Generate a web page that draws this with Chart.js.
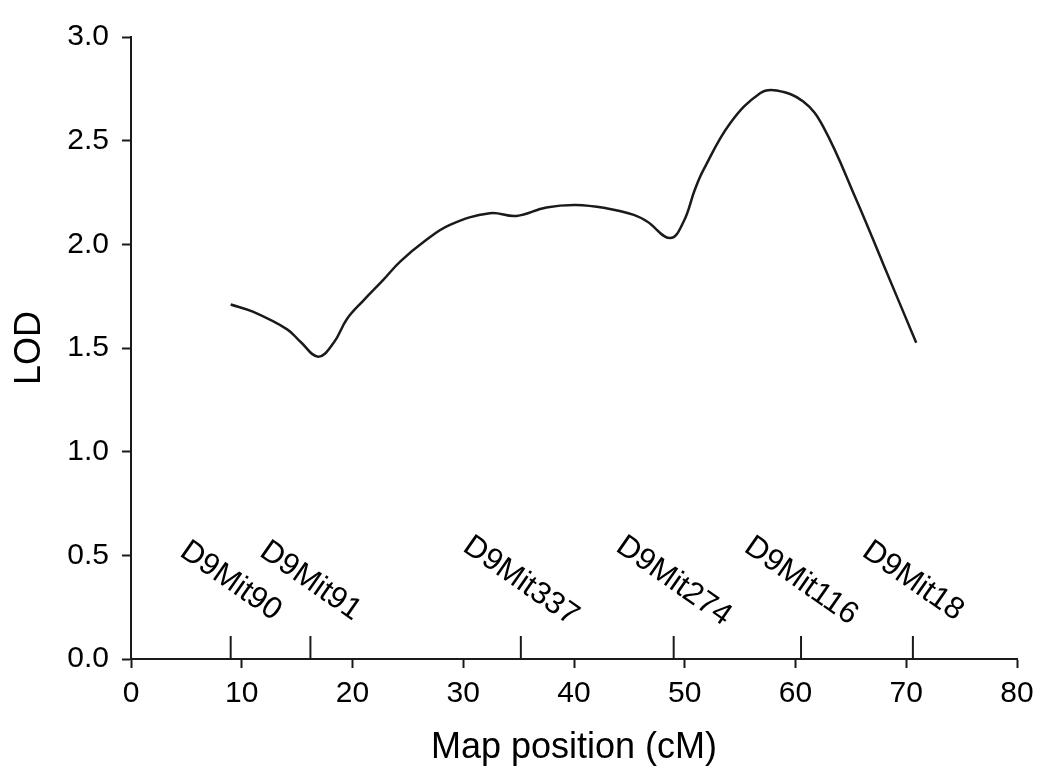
<!DOCTYPE html>
<html>
<head>
<meta charset="utf-8">
<script src="https://cdn.jsdelivr.net/npm/chart.js@4.4.1/dist/chart.umd.min.js"></script>
<style>
  body { margin: 0; background: #fff; }
  #wrap { width: 1050px; height: 780px; }
</style>
</head>
<body>
<div id="wrap"><canvas id="myChart" width="1050" height="780"></canvas></div>
<script>
// LOD curve
const positions = [9.0, 11.0, 14.1, 15.3, 16.9, 18.3, 19.5, 21.0, 22.8, 24.3, 26.5, 28.8, 32.4, 34.8, 37.5, 40.2, 42.9, 45.4, 46.6, 48.7, 49.9, 50.9, 51.7, 54.1, 56.8, 58.3, 60.7, 62.5, 65.5, 67.9, 70.9];
const lodValues = [1.71, 1.675, 1.59, 1.53, 1.458, 1.525, 1.64, 1.73, 1.83, 1.917, 2.015, 2.094, 2.15, 2.137, 2.178, 2.19, 2.174, 2.142, 2.11, 2.03, 2.11, 2.262, 2.36, 2.584, 2.729, 2.742, 2.689, 2.568, 2.214, 1.908, 1.525];

// markers along the map
const markerNames = ["D9Mit90", "D9Mit91", "D9Mit337", "D9Mit274", "D9Mit116", "D9Mit18"];
const markerPositions = [9.0, 16.2, 35.2, 49.0, 60.5, 70.6];

const xTicks = [0, 10, 20, 30, 40, 50, 60, 70, 80];
const yTicks = [0, 0.5, 1.0, 1.5, 2.0, 2.5, 3.0];

const FONT = "'Liberation Sans', Arial, Helvetica, sans-serif";

const markerPlugin = {
  id: "markers",
  afterDatasetsDraw(chart) {
    const ctx = chart.ctx;
    const x = chart.scales.x;
    const y = chart.scales.y;
    const base = y.getPixelForValue(0);
    ctx.save();
    ctx.strokeStyle = "#1a1a1a";
    ctx.lineWidth = 2;
    ctx.fillStyle = "#000";
    ctx.font = "31px " + FONT;
    ctx.textAlign = "center";
    ctx.textBaseline = "middle";
    markerNames.forEach((name, i) => {
      const px = x.getPixelForValue(markerPositions[i]);
      ctx.beginPath();
      ctx.moveTo(px, base);
      ctx.lineTo(px, base - 23);
      ctx.stroke();
      ctx.save();
      ctx.translate(px, base - 78);
      ctx.rotate(35 * Math.PI / 180);
      ctx.fillText(name, 0, 0);
      ctx.restore();
    });
    ctx.restore();
  }
};

new Chart(document.getElementById("myChart"), {
  type: "line",
  data: {
    datasets: [{
      label: "LOD",
      data: positions.map((p, i) => ({ x: p, y: lodValues[i] })),
      borderColor: "#1a1a1a",
      borderWidth: 2.5,
      pointRadius: 0,
      fill: false,
      tension: 0.4
    }]
  },
  options: {
    responsive: false,
    animation: false,
    layout: { padding: { left: 0, right: 33, top: 37, bottom: 0 } },
    plugins: { legend: { display: false }, tooltip: { enabled: false } },
    scales: {
      x: {
        type: "linear",
        min: 0,
        max: 80,
        afterFit(s) { s.height = 121; },
        afterBuildTicks(s) { s.ticks = xTicks.map(v => ({ value: v })); },
        grid: { drawOnChartArea: false, tickLength: 9, tickWidth: 2, tickColor: "#1a1a1a" },
        border: { display: true, color: "#1a1a1a", width: 2 },
        ticks: { color: "#000", font: { size: 30, family: FONT }, padding: 8, maxRotation: 0 },
        title: { display: true, text: "Map position (cM)", color: "#000", font: { size: 36, family: FONT }, padding: { top: 0, bottom: 10 } }
      },
      y: {
        type: "linear",
        min: 0,
        max: 3,
        afterFit(s) { s.width = 131; },
        afterBuildTicks(s) { s.ticks = yTicks.map(v => ({ value: v })); },
        grid: { drawOnChartArea: false, tickLength: 9, tickWidth: 2, tickColor: "#1a1a1a" },
        border: { display: true, color: "#1a1a1a", width: 2 },
        ticks: { color: "#000", font: { size: 30, family: FONT }, padding: 13, callback: v => v.toFixed(1) },
        title: { display: true, text: "LOD", color: "#000", font: { size: 36, family: FONT }, padding: { top: 8, bottom: 0 } }
      }
    }
  },
  plugins: [markerPlugin]
});
</script>
</body>
</html>
